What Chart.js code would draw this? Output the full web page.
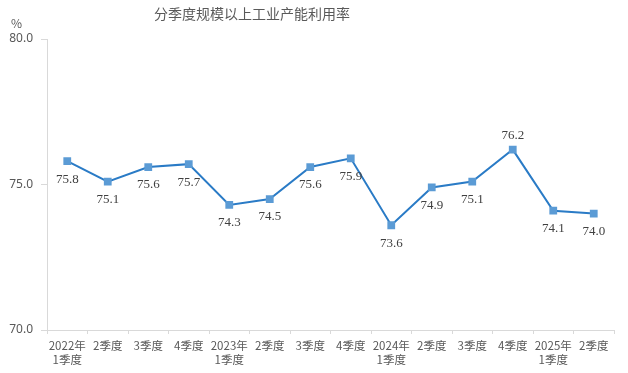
<!DOCTYPE html>
<html>
<head>
<meta charset="utf-8">
<script src="https://cdn.jsdelivr.net/npm/chart.js@4/dist/chart.umd.min.js"></script>
<style>
  html, body { margin: 0; padding: 0; background: #fff; }
  #wrap { width: 628px; height: 373px; }
</style>
</head>
<body>
<div id="wrap"><canvas id="capChart"></canvas></div>
<script>
// 季度标签
const quarters = [
    ['2022年', '1季度'], '2季度', '3季度', '4季度',
    ['2023年', '1季度'], '2季度', '3季度', '4季度',
    ['2024年', '1季度'], '2季度', '3季度', '4季度',
    ['2025年', '1季度'], '2季度'
];
// 产能利用率 (%)
const utilization = [75.8, 75.1, 75.6, 75.7, 74.3, 74.5, 75.6, 75.9, 73.6, 74.9, 75.1, 76.2, 74.1, 74.0];
const yTicks = [70, 75, 80];

// 标题, 单位和数值标签 (默认在点下方, 最高点在上方)
const valueLabels = {
    id: 'valueLabels',
    afterDatasetsDraw(chart) {
        const ctx = chart.ctx;
        const meta = chart.getDatasetMeta(0);
        const maxVal = Math.max(...utilization);
        ctx.save();
        ctx.font = '13px "Liberation Serif", "DejaVu Serif", serif';
        ctx.fillStyle = '#404040';
        ctx.textAlign = 'center';
        ctx.textBaseline = 'middle';
        meta.data.forEach((pt, i) => {
            const v = utilization[i];
            const dy = v === maxVal ? -14 : 18;
            ctx.fillText(v.toFixed(1), pt.x, pt.y + dy);
        });
        ctx.font = '12px "Noto Sans CJK SC", "Noto Sans", sans-serif';
        ctx.fillStyle = '#595959';
        ctx.textAlign = 'left';
        ctx.fillText('%', 11, 23);
        ctx.font = '14px "Noto Sans CJK SC", sans-serif';
        ctx.textAlign = 'center';
        ctx.fillText('分季度规模以上工业产能利用率', 252, 14);
        ctx.restore();
    }
};

const ctx = document.getElementById('capChart').getContext('2d');
new Chart(ctx, {
    type: 'line',
    data: {
        labels: quarters,
        datasets: [{
            data: utilization,
            borderColor: '#2a7bc6',
            borderWidth: 2,
            pointStyle: 'rect',
            pointRadius: 5.5,
            pointBackgroundColor: '#5b9bd5',
            pointBorderColor: '#5b9bd5',
            pointBorderWidth: 0,
            tension: 0
        }]
    },
    options: {
        responsive: true,
        maintainAspectRatio: false,
        animation: false,
        layout: { padding: { top: 39, right: 14, bottom: 0, left: 0 } },
        plugins: {
            legend: { display: false },
            tooltip: { enabled: false },
            title: { display: false }
        },
        scales: {
            x: {
                offset: true,
                grid: { offset: true, drawOnChartArea: false, tickLength: 4, color: '#d9d9d9' },
                border: { color: '#d9d9d9' },
                ticks: {
                    color: '#595959',
                    maxRotation: 0,
                    autoSkip: false,
                    padding: 4,
                    font: { family: '"Noto Sans CJK SC", sans-serif', size: 11.5, lineHeight: 1.25 }
                },
                afterFit(scale) { scale.height = 43; }
            },
            y: {
                min: 70,
                max: 80,
                afterBuildTicks(scale) { scale.ticks = yTicks.map(v => ({ value: v })); },
                grid: { drawOnChartArea: false, tickLength: 6, color: '#d9d9d9' },
                border: { color: '#d9d9d9' },
                ticks: {
                    color: '#595959',
                    padding: 8,
                    font: { family: '"Noto Sans", sans-serif', size: 12 },
                    callback: v => v.toFixed(1)
                },
                afterFit(scale) { scale.width = 47; }
            }
        }
    },
    plugins: [valueLabels]
});
</script>
</body>
</html>
